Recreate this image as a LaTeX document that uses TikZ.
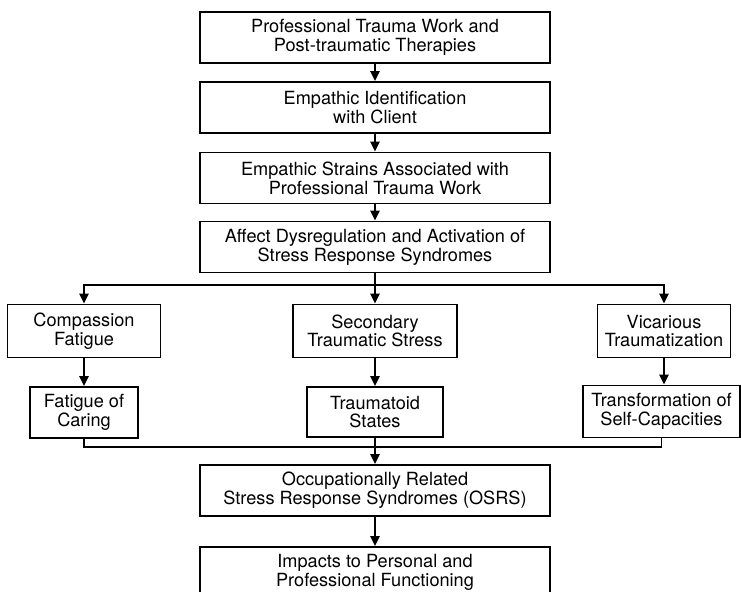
\documentclass[tikz,border=0pt]{standalone}
\usepackage{fontspec}
\setmainfont{TeX Gyre Heros}
\usetikzlibrary{arrows.meta}
\tikzset{
  box/.style={draw, line width=1.6pt, align=center, inner sep=1pt,
    font=\fontsize{15.5}{16}\selectfont},
  bigbox/.style={box, minimum width=10.5cm, minimum height=1.53cm},
  arr/.style={line width=1.5pt, -{Triangle[length=3mm,width=2.8mm]}},
  lnk/.style={line width=1.5pt}
}
\begin{document}
\begin{tikzpicture}[x=0.03cm, y=-0.03cm]
\useasboundingbox (0,0) rectangle (741,591);
\clip (0,0) rectangle (741,591);

% Drawing main column
\node[bigbox] (work) at (375,37.5) {Professional Trauma Work and\\Post-traumatic Therapies};
\node[bigbox] (ident) at (375,107.5) {Empathic Identification\\with Client};
\node[bigbox] (strain) at (375,178) {Empathic Strains Associated with\\Professional Trauma Work};
\node[bigbox] (affect) at (375,247) {Affect Dysregulation and Activation of\\Stress Response Syndromes};

% Drawing three branches
\node[box, minimum width=4.59cm, minimum height=1.59cm] (cf) at (84,331) {Compassion\\Fatigue};
\node[box, minimum width=4.92cm, minimum height=1.59cm] (sts) at (375,331) {Secondary\\Traumatic Stress};
\node[box, minimum width=3.99cm, minimum height=1.59cm] (vt) at (664,331) {Vicarious\\Traumatization};
\node[box, minimum width=3.24cm, minimum height=1.53cm] (foc) at (84,412.5) {Fatigue of\\Caring};
\node[box, minimum width=4.08cm, minimum height=1.5cm] (ts) at (375,412) {Traumatoid\\States};
\node[box, minimum width=4.71cm, minimum height=1.56cm] (tsc) at (661.5,411.5) {Transformation of\\Self-Capacities};

% Drawing outcome boxes
\node[bigbox] (osrs) at (375,490.5) {Occupationally Related\\Stress Response Syndromes (OSRS)};
\node[bigbox] (imp) at (375,572.5) {Impacts to Personal and\\Professional Functioning};

\coordinate (split) at (375,285);
\coordinate (join) at (375,447);

% Drawing connectors
\draw[arr] (work) -- (ident);
\draw[arr] (ident) -- (strain);
\draw[arr] (strain) -- (affect);
\draw[arr] (affect) -- (sts);
\draw[arr] (split) -| (cf.north);
\draw[arr] (split) -| (vt.north);
\draw[arr] (cf) -- (foc);
\draw[arr] (sts) -- (ts);
\draw[arr] (vt.south) -- (vt.south |- tsc.north);
\draw[lnk] (foc.south) |- (join) -| (tsc.south);
\draw[arr] (ts) -- (osrs);
\draw[arr] (osrs) -- (imp);
\end{tikzpicture}
\end{document}
